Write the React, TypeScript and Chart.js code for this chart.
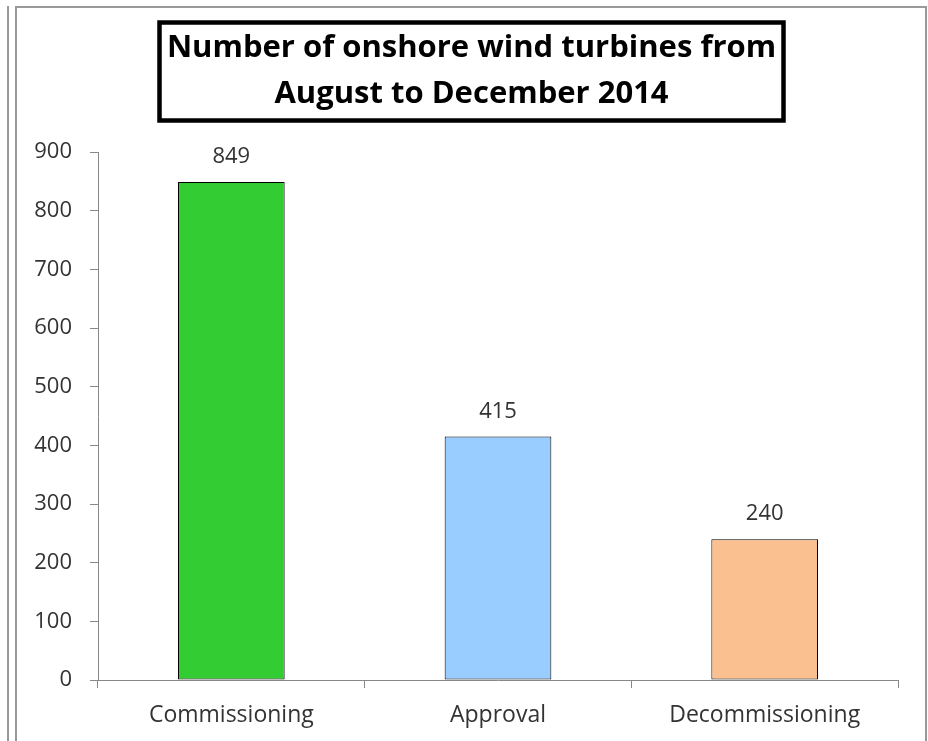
import React, { useEffect, useRef } from "react";
import { Chart, registerables } from "chart.js";

Chart.register(...registerables);

const categories = ["Commissioning", "Approval", "Decommissioning"];
const turbineCounts = [849, 415, 240];
const barColors = ["#33CC33", "#99CCFF", "#FAC090"];
const titleLines = ["Number of onshore wind turbines from", "August to December 2014"];
const yMin = 0;
const yMax = 900;
const yStep = 100;

const FONT = "'Open Sans', 'Noto Sans', sans-serif";

const decorPlugin = {
  id: "decor",
  beforeDraw(chart: any) {
    const ctx = chart.ctx;
    ctx.save();
    ctx.fillStyle = "#ffffff";
    ctx.fillRect(0, 0, chart.width, chart.height);
    ctx.strokeStyle = "#999999";
    ctx.lineWidth = 2;
    ctx.beginPath();
    ctx.moveTo(8, 6);
    ctx.lineTo(8, chart.height);
    ctx.moveTo(16, chart.height);
    ctx.lineTo(16, 7);
    ctx.lineTo(926, 7);
    ctx.lineTo(926, chart.height);
    ctx.stroke();
    // title box
    ctx.strokeStyle = "#000000";
    ctx.lineWidth = 4.5;
    ctx.strokeRect(159.5, 22.5, 624, 98);
    ctx.fillStyle = "#000000";
    ctx.font = `bold 31px ${FONT}`;
    ctx.textAlign = "center";
    ctx.textBaseline = "alphabetic";
    ctx.fillText(titleLines[0], 471.5, 57);
    ctx.fillText(titleLines[1], 471.5, 103);
    ctx.restore();
  },
  afterDatasetsDraw(chart: any) {
    const ctx = chart.ctx;
    const meta = chart.getDatasetMeta(0);
    ctx.save();
    ctx.fillStyle = "#333333";
    ctx.font = `22px ${FONT}`;
    ctx.textAlign = "center";
    ctx.textBaseline = "middle";
    meta.data.forEach((el: any, i: number) => {
      ctx.fillText(String(turbineCounts[i]), el.x, el.y - 25);
    });
    ctx.restore();
  },
};

export default function App() {
  const ref = useRef<HTMLCanvasElement | null>(null);
  useEffect(() => {
    if (!ref.current) return;
    const chart = new Chart(ref.current, {
      type: "bar",
      data: {
        labels: categories,
        datasets: [
          {
            data: turbineCounts,
            backgroundColor: barColors,
            borderColor: "#000000",
            borderWidth: 1,
            borderSkipped: false,
            categoryPercentage: 1,
            barPercentage: 0.4,
          },
        ],
      },
      options: {
        animation: false,
        responsive: false,
        maintainAspectRatio: false,
        devicePixelRatio: 1,
        layout: { padding: { left: 0, top: 152, right: 30, bottom: 0 } },
        plugins: {
          legend: { display: false },
          tooltip: { enabled: false },
          title: { display: false },
        },
        scales: {
          x: {
            afterFit(scale: any) {
              scale.height = 61;
            },
            grid: {
              display: true,
              offset: true,
              drawOnChartArea: false,
              drawTicks: true,
              tickLength: 8,
              color: "#888888",
            },
            border: { display: true, color: "#888888", width: 1 },
            ticks: {
              color: "#333333",
              font: { family: FONT, size: 23 },
              padding: 14,
              maxRotation: 0,
            },
          },
          y: {
            min: yMin,
            max: yMax,
            afterFit(scale: any) {
              scale.width = 98;
            },
            grid: {
              display: true,
              drawOnChartArea: false,
              drawTicks: true,
              tickLength: 8,
              color: "#888888",
            },
            border: { display: true, color: "#888888", width: 1 },
            ticks: {
              stepSize: yStep,
              color: "#333333",
              font: { family: FONT, size: 22 },
              padding: 18,
            },
          },
        },
      },
      plugins: [decorPlugin],
    });
    return () => chart.destroy();
  }, []);
  return (
    <div style={{ position: "absolute", left: 0, top: 0, width: 928, height: 741 }}>
      <canvas ref={ref} width={928} height={741} style={{ width: 928, height: 741, display: "block" }} />
    </div>
  );
}
